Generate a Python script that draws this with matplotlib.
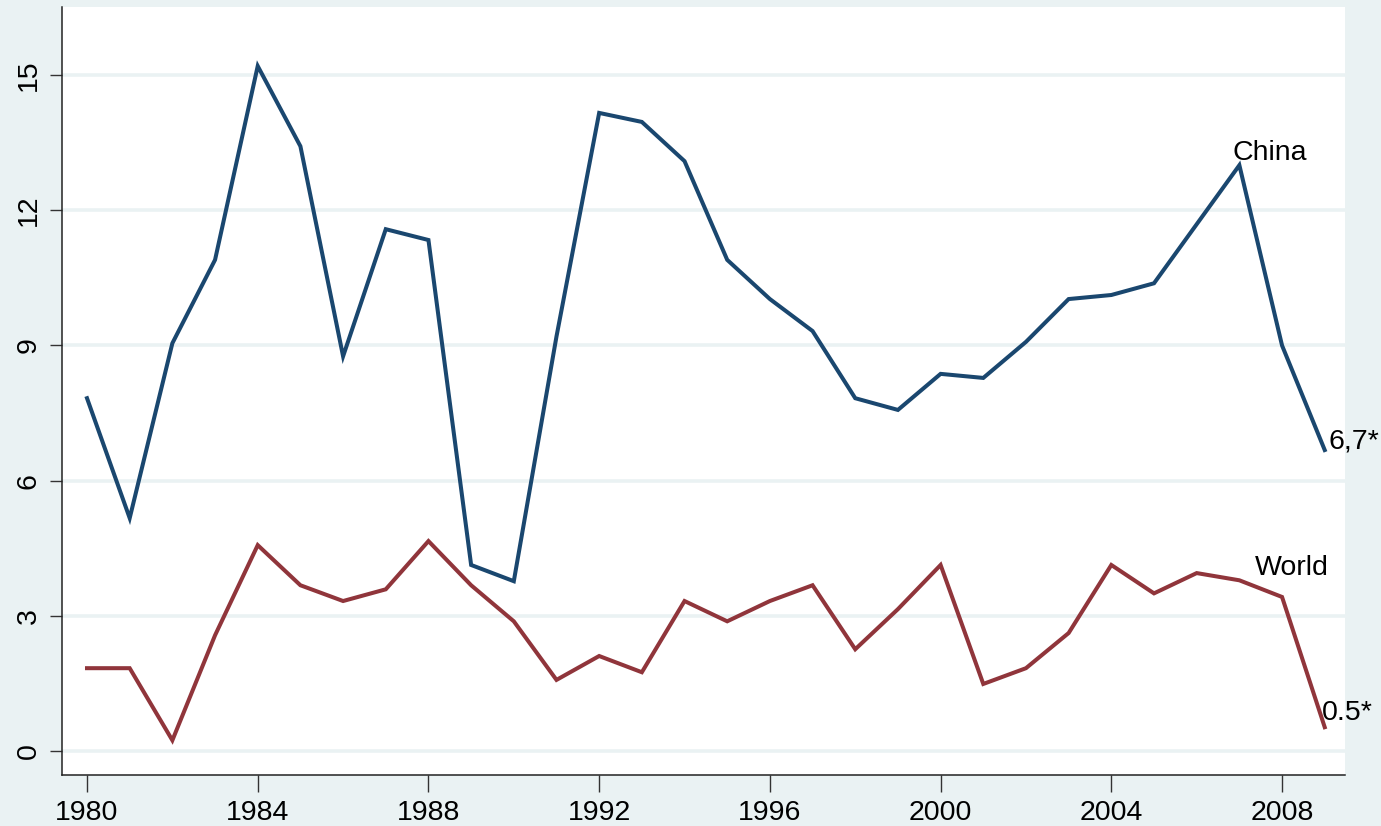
import matplotlib
matplotlib.use("Agg")
import matplotlib.pyplot as plt

years = list(range(1980, 2010))
china = [7.83, 5.17, 9.05, 10.9, 15.2, 13.42, 8.76, 11.58, 11.34, 4.13,
         3.77, 9.2, 14.16, 13.96, 13.09, 10.9, 10.03, 9.32, 7.83, 7.57,
         8.37, 8.28, 9.08, 10.03, 10.12, 10.38, 11.69, 13.0, 9.0, 6.68]
world = [1.84, 1.84, 0.24, 2.57, 4.57, 3.68, 3.33, 3.59, 4.66, 3.68,
         2.88, 1.58, 2.11, 1.75, 3.33, 2.88, 3.33, 3.68, 2.26, 3.15,
         4.13, 1.49, 1.84, 2.62, 4.13, 3.5, 3.95, 3.79, 3.42, 0.53]
yticks = [0, 3, 6, 9, 12, 15]
xticks = [1980, 1984, 1988, 1992, 1996, 2000, 2004, 2008]
labels = {"China": (2006.85, 13.11), "World": (2007.37, 3.9),
          "6,7*": (2009.08, 6.72), "0.5*": (2008.94, 0.69)}

bg = "#EAF2F3"
navy = "#1a476f"
maroon = "#90353b"

plt.rcParams['font.family'] = ['Liberation Sans', 'DejaVu Sans']
FS = 20.5

fig = plt.figure(figsize=(13.81, 8.26), dpi=100, facecolor=bg)
ax = fig.add_axes([62/1381, 51/826, (1345-62)/1381, (775-7)/826])
ax.set_facecolor("white")

for yv in yticks:
    ax.axhline(yv, color=bg, lw=2.6, zorder=1)

ax.plot(years, china, color=navy, lw=2.9, zorder=3, solid_joinstyle='miter')
ax.plot(years, world, color=maroon, lw=2.9, zorder=3, solid_joinstyle='miter')

for txt, (xx, yy) in labels.items():
    ax.text(xx, yy, txt, fontsize=FS, color="black", ha="left", va="baseline",
            clip_on=False, zorder=4)

ax.set_xlim(1979.414, 2009.475)
ax.set_ylim(-0.53, 16.51)
ax.set_xticks(xticks)
ax.set_yticks(yticks)
ax.set_xticklabels([str(v) for v in xticks], fontsize=FS)
ax.set_yticklabels([str(v) for v in yticks], fontsize=FS, rotation=90, va="center")

for s in ["top", "right"]:
    ax.spines[s].set_visible(False)
for s in ["left", "bottom"]:
    ax.spines[s].set_color("#222222")
    ax.spines[s].set_linewidth(1.1)
ax.tick_params(axis="x", length=12, width=1, color="#333333", pad=6)
ax.tick_params(axis="y", length=8.6, width=1, color="#333333", pad=6)

fig.savefig("out.png", dpi=100, facecolor=bg)
